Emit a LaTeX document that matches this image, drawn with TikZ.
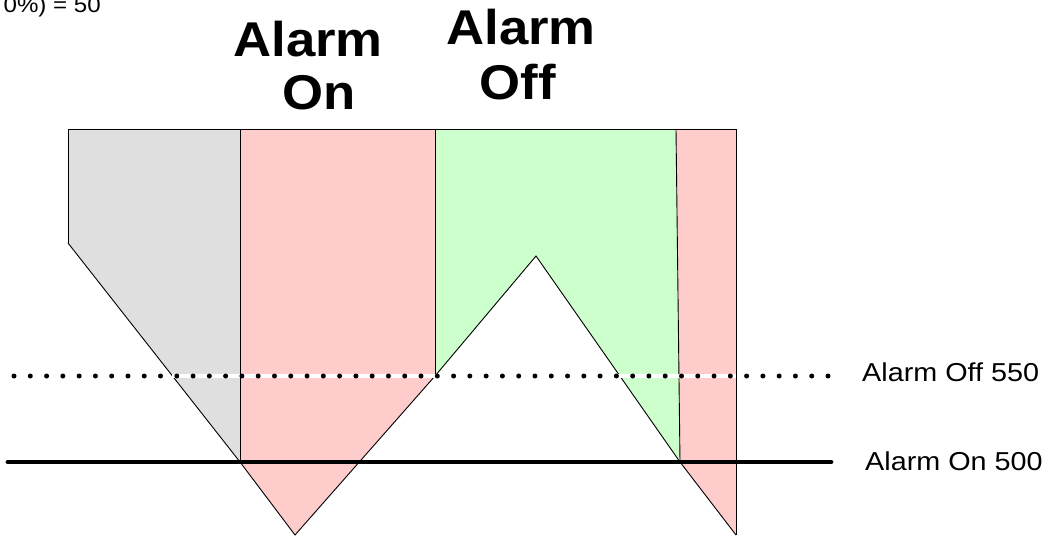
\documentclass[tikz,border=0pt]{standalone}
\usepackage{fontspec}
\setmainfont{Liberation Sans}
\definecolor{grayfill}{HTML}{DFDFDF}
\definecolor{pinkfill}{HTML}{FFCCCC}
\definecolor{greenfill}{HTML}{CCFFCC}
\tikzset{
  region/.style={draw=black, line width=0.9bp, line join=miter},
  title/.style={font=\fontsize{49}{53}\selectfont\bfseries, align=center, inner sep=0pt, xscale=1.08},
  levellabel/.style={font=\fontsize{26}{30}\selectfont, anchor=base west, inner sep=0pt, xscale=1.11},
  dotline/.style={line width=5bp, line cap=round, dash pattern=on 0bp off 16.28bp},
  onLine/.style={line width=4.8bp, line cap=round}
}
\begin{document}
\begin{tikzpicture}[x=1bp, y=-1bp]
\useasboundingbox (0,0) rectangle (1053,536);
% vertices
\coordinate (gTL) at (68,129);
\coordinate (gBL) at (68,243);
\coordinate (v1) at (240,462);
\coordinate (b1) at (295,535);
\coordinate (v2) at (435,376);
\coordinate (pk) at (536,256);
\coordinate (v3) at (680,462);
\coordinate (b2) at (736,535);
% regions
\fill[grayfill] (gTL) -- (240,129) -- (v1) -- (gBL) -- cycle;
\fill[pinkfill] (240,129) -- (435,129) -- (v2) -- (b1) -- (v1) -- cycle;
\fill[greenfill] (435,129) -- (676,129) -- (v3) -- (pk) -- (v2) -- cycle;
\fill[pinkfill] (676,129) -- (736,129) -- (b2) -- (v3) -- cycle;
% outlines
\draw[region] (gBL) -- (gTL) -- (736,129) -- (b2);
\draw[region] (gBL) -- (v1) -- (b1) -- (v2) -- (pk) -- (v3) -- (b2);
\draw[region] (240,129) -- (v1);
\draw[region] (435,129) -- (v2);
\draw[region] (676,129) -- (v3);
% level lines
\coordinate (offL) at (14,376);
\coordinate (offR) at (829,376);
\coordinate (onL) at (8,462);
\coordinate (onR) at (831,462);
\draw[white, line width=3.5bp] (172,376) -- (736,376);
\draw[dotline] (offL) -- (offR);
\draw[onLine] (onL) -- (onR);
% labels
\node[levellabel] (offlab) at (862,382) {Alarm Off 550};
\node[levellabel] (onlab) at (865,470) {Alarm On 500};
\node[title, anchor=base] (ton1) at (308,57) {Alarm};
\node[title, anchor=base] (ton2) at (319,110) {On};
\node[title, anchor=base] (toff1) at (521,45) {Alarm};
\node[title, anchor=base] (toff2) at (518,100) {Off};
\node[font=\fontsize{22}{26}\selectfont, anchor=base east, inner sep=0pt, xscale=1.1] (hyst) at (101,12.5) {0\%) = 50};
\end{tikzpicture}
\end{document}
